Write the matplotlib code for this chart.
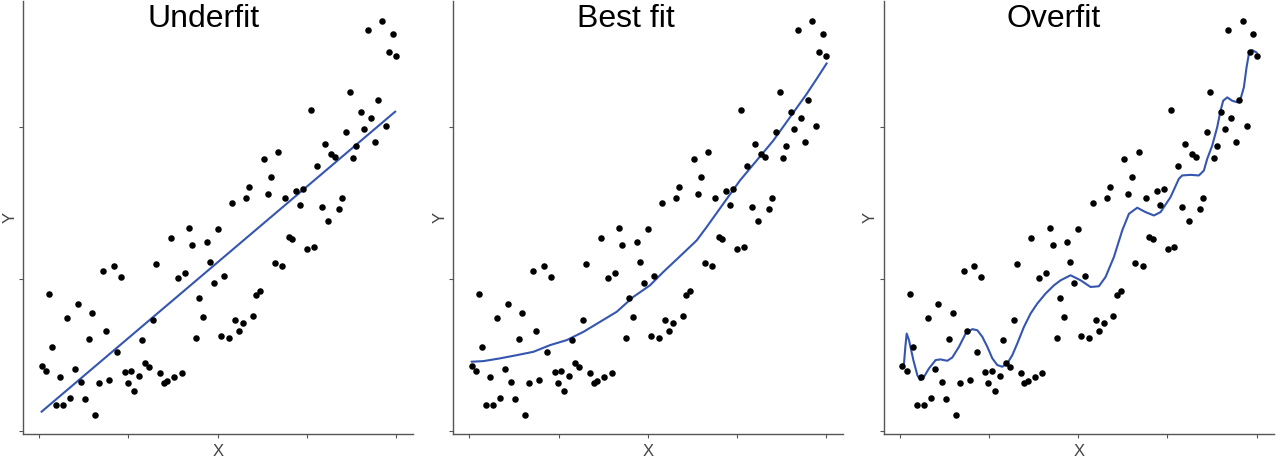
#import packages
import numpy as np
import matplotlib
matplotlib.use('Agg')
import matplotlib.pyplot as plt

plt.rcParams['font.family'] = ['Liberation Sans', 'DejaVu Sans']

#scatter data (same points in all three panels)
x_pts = [0.65, 1.87, 2.80, 3.64, 4.67, 5.89, 6.73, 7.76, 8.60, 9.91,
         10.75, 11.68, 12.90, 13.83, 14.77, 15.70, 16.82, 17.85, 18.79, 19.63,
         20.84, 21.68, 22.80, 23.93, 24.77, 25.70, 26.64, 27.94, 28.88, 29.63,
         30.75, 31.87, 32.71, 33.93, 34.86, 35.79, 36.82, 37.76, 38.97, 39.91,
         40.93, 42.06, 42.90, 43.93, 44.86, 45.98, 46.92, 47.76, 48.88, 50.00,
         50.84, 51.78, 53.08, 54.02, 54.86, 55.89, 57.10, 58.04, 58.88, 59.81,
         60.84, 61.87, 62.90, 64.02, 64.95, 65.98, 66.92, 68.04, 68.97, 69.91,
         70.84, 71.96, 72.99, 73.93, 75.14, 76.07, 76.92, 77.94, 79.16, 80.00,
         81.03, 81.87, 82.99, 84.11, 84.95, 86.07, 87.01, 88.04, 88.88, 90.09,
         91.12, 92.06, 92.90, 94.11, 94.95, 96.07, 97.29, 98.13, 99.07, 100.0]
y_pts = [42.8, 39.3, 90.3, 55.1, 17.0, 35.6, 17.0, 74.3, 21.4, 40.7,
         83.1, 32.1, 20.8, 60.1, 77.4, 10.5, 31.3, 105.1, 65.8, 33.4,
         108.2, 51.6, 101.0, 38.5, 31.3, 39.3, 26.4, 36.3, 59.5, 44.4,
         42.2, 73.0, 109.7, 37.8, 31.3, 32.8, 126.8, 35.6, 100.3, 37.8,
         103.8, 133.3, 122.4, 60.8, 87.4, 75.2, 123.9, 111.0, 97.3, 132.7,
         62.3, 101.6, 61.4, 149.9, 73.0, 65.8, 70.8, 153.4, 160.0, 75.8,
         89.6, 91.8, 178.6, 155.6, 167.0, 110.6, 183.6, 108.2, 153.4, 127.4,
         126.1, 157.8, 148.4, 159.3, 119.6, 210.9, 121.1, 174.4, 147.5, 188.6,
         137.7, 182.3, 180.1, 145.6, 153.4, 196.5, 222.5, 179.5, 187.1, 209.6,
         198.7, 263.4, 205.9, 190.2, 217.5, 269.1, 200.2, 249.0, 261.0, 246.1]

#fitted curves
under_x = [0.65, 99.8]
under_y = [12.7, 209.8]

best_x = [0.65, 3.93, 8.60, 13.27, 17.94, 22.62, 27.29, 31.96, 36.64, 41.31,
          45.98, 50.65, 54.39, 59.07, 63.74, 66.54, 71.21, 75.89, 80.56, 85.23,
          89.91, 94.58, 97.38, 100.19]
best_y = [45.5, 45.9, 47.7, 49.8, 52.0, 56.4, 59.7, 65.1, 71.7, 78.3,
          88.1, 95.7, 104.5, 114.8, 125.2, 134.0, 149.3, 164.6, 177.7, 190.8,
          206.1, 221.4, 231.3, 241.5]

over_x = [0.65, 1.12, 1.50, 1.87, 2.52, 3.74, 4.86, 5.61, 6.73, 8.13,
          10.00, 11.40, 13.27, 14.67, 16.54, 18.41, 20.28, 21.68, 23.08, 24.49,
          25.89, 27.29, 28.69, 30.09, 31.50, 32.90, 34.77, 36.64, 38.50, 40.84,
          43.18, 45.05, 47.85, 50.65, 53.46, 55.79, 57.66, 60.00, 62.34, 64.21,
          66.54, 68.88, 71.21, 73.08, 75.89, 78.22, 79.16, 81.50, 83.83, 85.23,
          86.17, 87.57, 88.97, 89.91, 90.65, 91.78, 93.18, 94.58, 95.51, 96.45,
          97.20, 97.85, 98.79, 100.0]
over_y = [43.3, 44.4, 55.3, 64.0, 59.7, 46.6, 36.7, 33.4, 35.6, 41.1,
          46.6, 47.0, 46.1, 48.3, 55.3, 64.0, 66.9, 66.2, 61.9, 55.3,
          47.7, 43.3, 42.2, 44.4, 49.8, 57.5, 68.4, 77.2, 83.7, 90.3,
          95.7, 99.0, 102.3, 99.0, 94.6, 95.1, 101.2, 114.3, 131.8, 142.7,
          146.7, 143.8, 141.6, 143.8, 153.7, 165.7, 167.9, 168.3, 167.9, 171.1,
          178.8, 187.5, 199.6, 210.5, 217.0, 219.2, 217.0, 216.0, 218.1, 225.8,
          238.9, 247.7, 250.3, 248.7]

titles = ['Underfit', 'Best fit', 'Overfit']
title_x = [0.461, 0.443, 0.436]
fits = [(under_x, under_y), (best_x, best_y), (over_x, over_y)]
x_ticks = [0, 25, 50, 75, 100]
y_ticks = [0, 100, 200]

fig = plt.figure(figsize=(12.8, 4.63), dpi=100)
lefts = [0.0182, 0.3542, 0.6906]

for i in range(3):
    ax = fig.add_axes([lefts[i], 0.062, 0.3047, 0.936])
    ax.scatter(x_pts, y_pts, s=22, color='black', linewidths=0, zorder=3)
    ax.plot(fits[i][0], fits[i][1], color='#3556b0', linewidth=1.5,
            solid_joinstyle='round', zorder=2)

    ax.set_xlim(-4.5, 104.9)
    ax.set_ylim(-2.2, 282.6)
    ax.set_xticks(x_ticks)
    ax.set_yticks(y_ticks)
    ax.set_xticklabels([])
    ax.set_yticklabels([])
    ax.tick_params(length=3, width=0.8, color='#555555')

    for side in ['top', 'right']:
        ax.spines[side].set_visible(False)
    for side in ['left', 'bottom']:
        ax.spines[side].set_color('#555555')
        ax.spines[side].set_linewidth(1.0)

    ax.set_xlabel('X', fontsize=12, color='#444444')
    ax.set_ylabel('Y', fontsize=12, color='#444444')
    ax.xaxis.set_label_coords(0.5, -0.022)
    ax.yaxis.set_label_coords(-0.015, 0.5)

    ax.text(title_x[i], 0.939, titles[i], transform=ax.transAxes,
            ha='center', va='baseline', fontsize=23, color='black')

plt.savefig('out.png', dpi=100)
